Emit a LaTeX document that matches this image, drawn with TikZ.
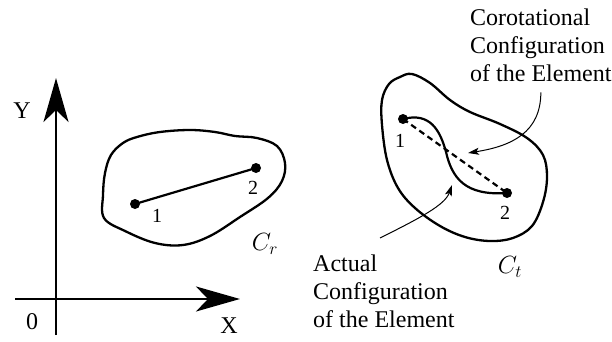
\documentclass[tikz,border=0pt]{standalone}
\usepackage{fontspec}
\setmainfont{Liberation Serif}
\usetikzlibrary{arrows.meta}
\begin{document}
\begin{tikzpicture}[x=1pt,y=-1pt,
  axis/.style={line width=2.6pt,-{Stealth[length=44pt,width=25pt,inset=12pt]}},
  blob/.style={line width=2.3pt,line join=round},
  elem/.style={line width=2.2pt},
  dot/.style={circle,fill=black,inner sep=0pt,minimum size=10pt},
  lbl/.style={font=\fontsize{20}{22}\selectfont,inner sep=0pt},
  big/.style={font=\fontsize{24}{28}\selectfont,inner sep=0pt},
  note/.style={font=\fontsize{24}{28}\selectfont,inner sep=0pt,align=left,anchor=north west},
  pointer/.style={line width=1pt,-{Stealth[length=11pt,width=7pt,inset=2.5pt]}}]
\useasboundingbox (0,0) rectangle (612,342);

% axes
\coordinate (xs) at (15,299);
\coordinate (xe) at (240,299);
\coordinate (ys) at (56,335);
\coordinate (ye) at (56,78);
\draw[axis] (xs) -- (xe);
\draw[axis] (ys) -- (ye);
\node[big] (ylab) at (22,111) {Y};
\node[big] (xlab) at (229,326) {X};
\node[big] (olab) at (32,322) {0};

% reference configuration
\draw[blob] plot[smooth cycle, tension=0.6] coordinates {
  (137,137) (160,132) (190,130) (215,132) (235,136) (257,138) (277,146)
  (285,163) (282,181) (268,198) (240,217) (210,236) (183,245) (155,243)
  (125,231) (104,218) (103,195) (105,173) (111,155) (123,143)};
\node[dot] (r1) at (135,204) {};
\node[dot] (r2) at (256,168) {};
\draw[elem] (r1.center) -- (r2.center);
\node[lbl] (r1l) at (157,216) {1};
\node[lbl] (r2l) at (253,188) {2};
\node[big] (cr) at (265,244) {$C_r$};

% current configuration
\draw[blob] plot[smooth cycle, tension=0.6] coordinates {
  (412,74) (430,83) (450,100) (470,112) (500,124) (527,138) (543,155)
  (547,177) (543,202) (532,226) (513,238) (490,241) (465,237) (440,226)
  (415,208) (398,188) (387,160) (382,125) (382,100) (389,84) (400,77)};
\node[dot] (t1) at (403,119) {};
\node[dot] (t2) at (507,193) {};
\draw[elem,dash pattern=on 6pt off 4pt] (t1.center) -- (t2.center);
\draw[elem] (t1.center) .. controls (430,112) and (440,130) .. (446,152)
  .. controls (452,178) and (465,196) .. (t2.center);
\node[lbl] (t1l) at (400,141) {1};
\node[lbl] (t2l) at (505,213) {2};
\node[big] (ct) at (510,267) {$C_t$};

% annotations
\node[note] (corot) at (470,9) {Corotational\\Configuration\\of the Element};
\node[note] (actual) at (313,255) {Actual\\Configuration\\of the Element};
\coordinate (ctip) at (468,153);
\coordinate (atip) at (452,185);
\draw[pointer] ([yshift=-10pt]corot.south) .. controls +(0,40) and (512,146) .. (ctip);
\draw[pointer] ([shift={(67,-17)}]actual.north west) .. controls +(40,-20) and (445,205) .. (atip);
\end{tikzpicture}
\end{document}
